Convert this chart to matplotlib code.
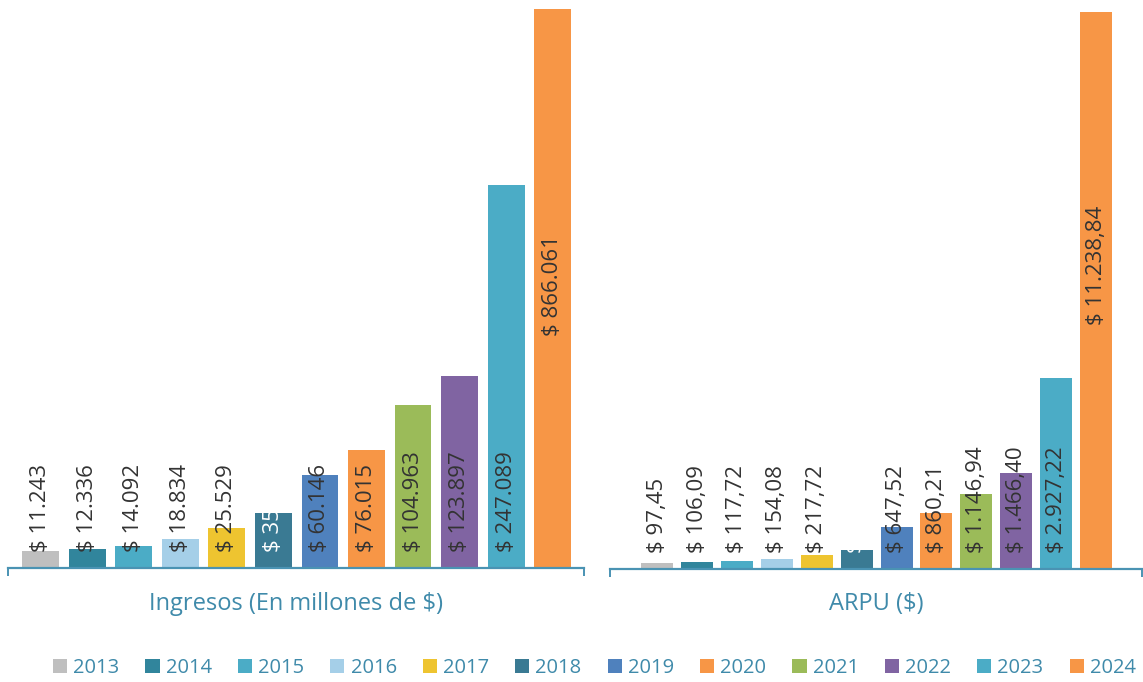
import matplotlib
matplotlib.use("Agg")
import matplotlib.pyplot as plt
from matplotlib.patches import Patch
from matplotlib.transforms import blended_transform_factory

# datos
years = ["2013", "2014", "2015", "2016", "2017", "2018",
         "2019", "2020", "2021", "2022", "2023", "2024"]
ingresos = [11243, 12336, 14092, 18834, 25529, 35200,
            60146, 76015, 104963, 123897, 247089, 866061]
arpu = [97.45, 106.09, 117.72, 154.08, 217.72, 291.50,
        647.52, 860.21, 1146.94, 1466.40, 2927.22, 11238.84]
colores = ["#BFBFBF", "#31859C", "#4BACC6", "#A5CFE8", "#EEC430", "#3A7A93",
           "#4F81BD", "#F79646", "#9BBB59", "#8064A2", "#4BACC6", "#F79646"]

plt.rcParams['font.family'] = ['Open Sans', 'DejaVu Sans']
eje_color = "#4A93B3"
texto_color = "#3F8AAA"
label_color = "#333333"


def fmt_ing(v):
    return "$ " + f"{v:,.0f}".replace(",", ".")


def fmt_arpu(v):
    s = f"{v:,.2f}"
    return "$ " + s.replace(",", "X").replace(".", ",").replace("X", ".")


fig = plt.figure(figsize=(11.43, 6.82), dpi=100)
ax1 = fig.add_axes([0.0070, 0.1672, 0.5039, 0.8196])
ax2 = fig.add_axes([0.5337, 0.1657, 0.4654, 0.8167])

paneles = [
    (ax1, ingresos, fmt_ing, 0.79, (-0.70, 11.67), 360645, 0.506),
    (ax2, arpu, fmt_arpu, 0.80, (-1.18, 12.15), 8536, 0.546),
]

for ax, vals, fmt, w, xl, ytop, ypos_ultimo in paneles:
    x = list(range(len(vals)))
    ax.bar(x, vals, width=w, color=colores, zorder=2)
    ax.set_xlim(*xl)
    ax.set_ylim(0, ytop)
    for s in ["top", "left", "right"]:
        ax.spines[s].set_visible(False)
    ax.spines["bottom"].set_color(eje_color)
    ax.spines["bottom"].set_linewidth(1.6)
    ax.set_yticks([])
    ax.set_xticks(xl)
    ax.set_xticklabels([])
    ax.tick_params(axis="x", length=6, width=1.4, color=eje_color, direction="out")
    trans = blended_transform_factory(ax.transData, ax.transAxes)
    for i, v in enumerate(vals):
        c = "white" if years[i] == "2018" else label_color
        if i == len(vals) - 1:
            ax.text(i, ypos_ultimo, fmt(v), transform=trans, rotation=90,
                    ha="center", va="center", fontsize=16, color=c, zorder=3)
        else:
            ax.annotate(fmt(v), (i, 0), xytext=(0, 11.5), textcoords="offset points",
                        rotation=90, ha="center", va="bottom", fontsize=16,
                        color=c, zorder=3)

fig.text(296 / 1143, 1 - 604 / 682, "Ingresos (En millones de $)", ha="center",
         va="center", fontsize=17, color=texto_color)
fig.text(876 / 1143, 1 - 604 / 682, "ARPU ($)", ha="center",
         va="center", fontsize=17, color=texto_color)

handles = [Patch(facecolor=c, edgecolor="none") for c in colores]
leg = fig.legend(handles, years, ncol=12, loc="center",
                 bbox_to_anchor=(0.52, 1 - 668 / 682), frameon=False,
                 fontsize=14.5, handlelength=0.7, handleheight=0.7,
                 handletextpad=0.3, columnspacing=1.3)
for t in leg.get_texts():
    t.set_color(texto_color)

fig.savefig("out.png", dpi=100)
